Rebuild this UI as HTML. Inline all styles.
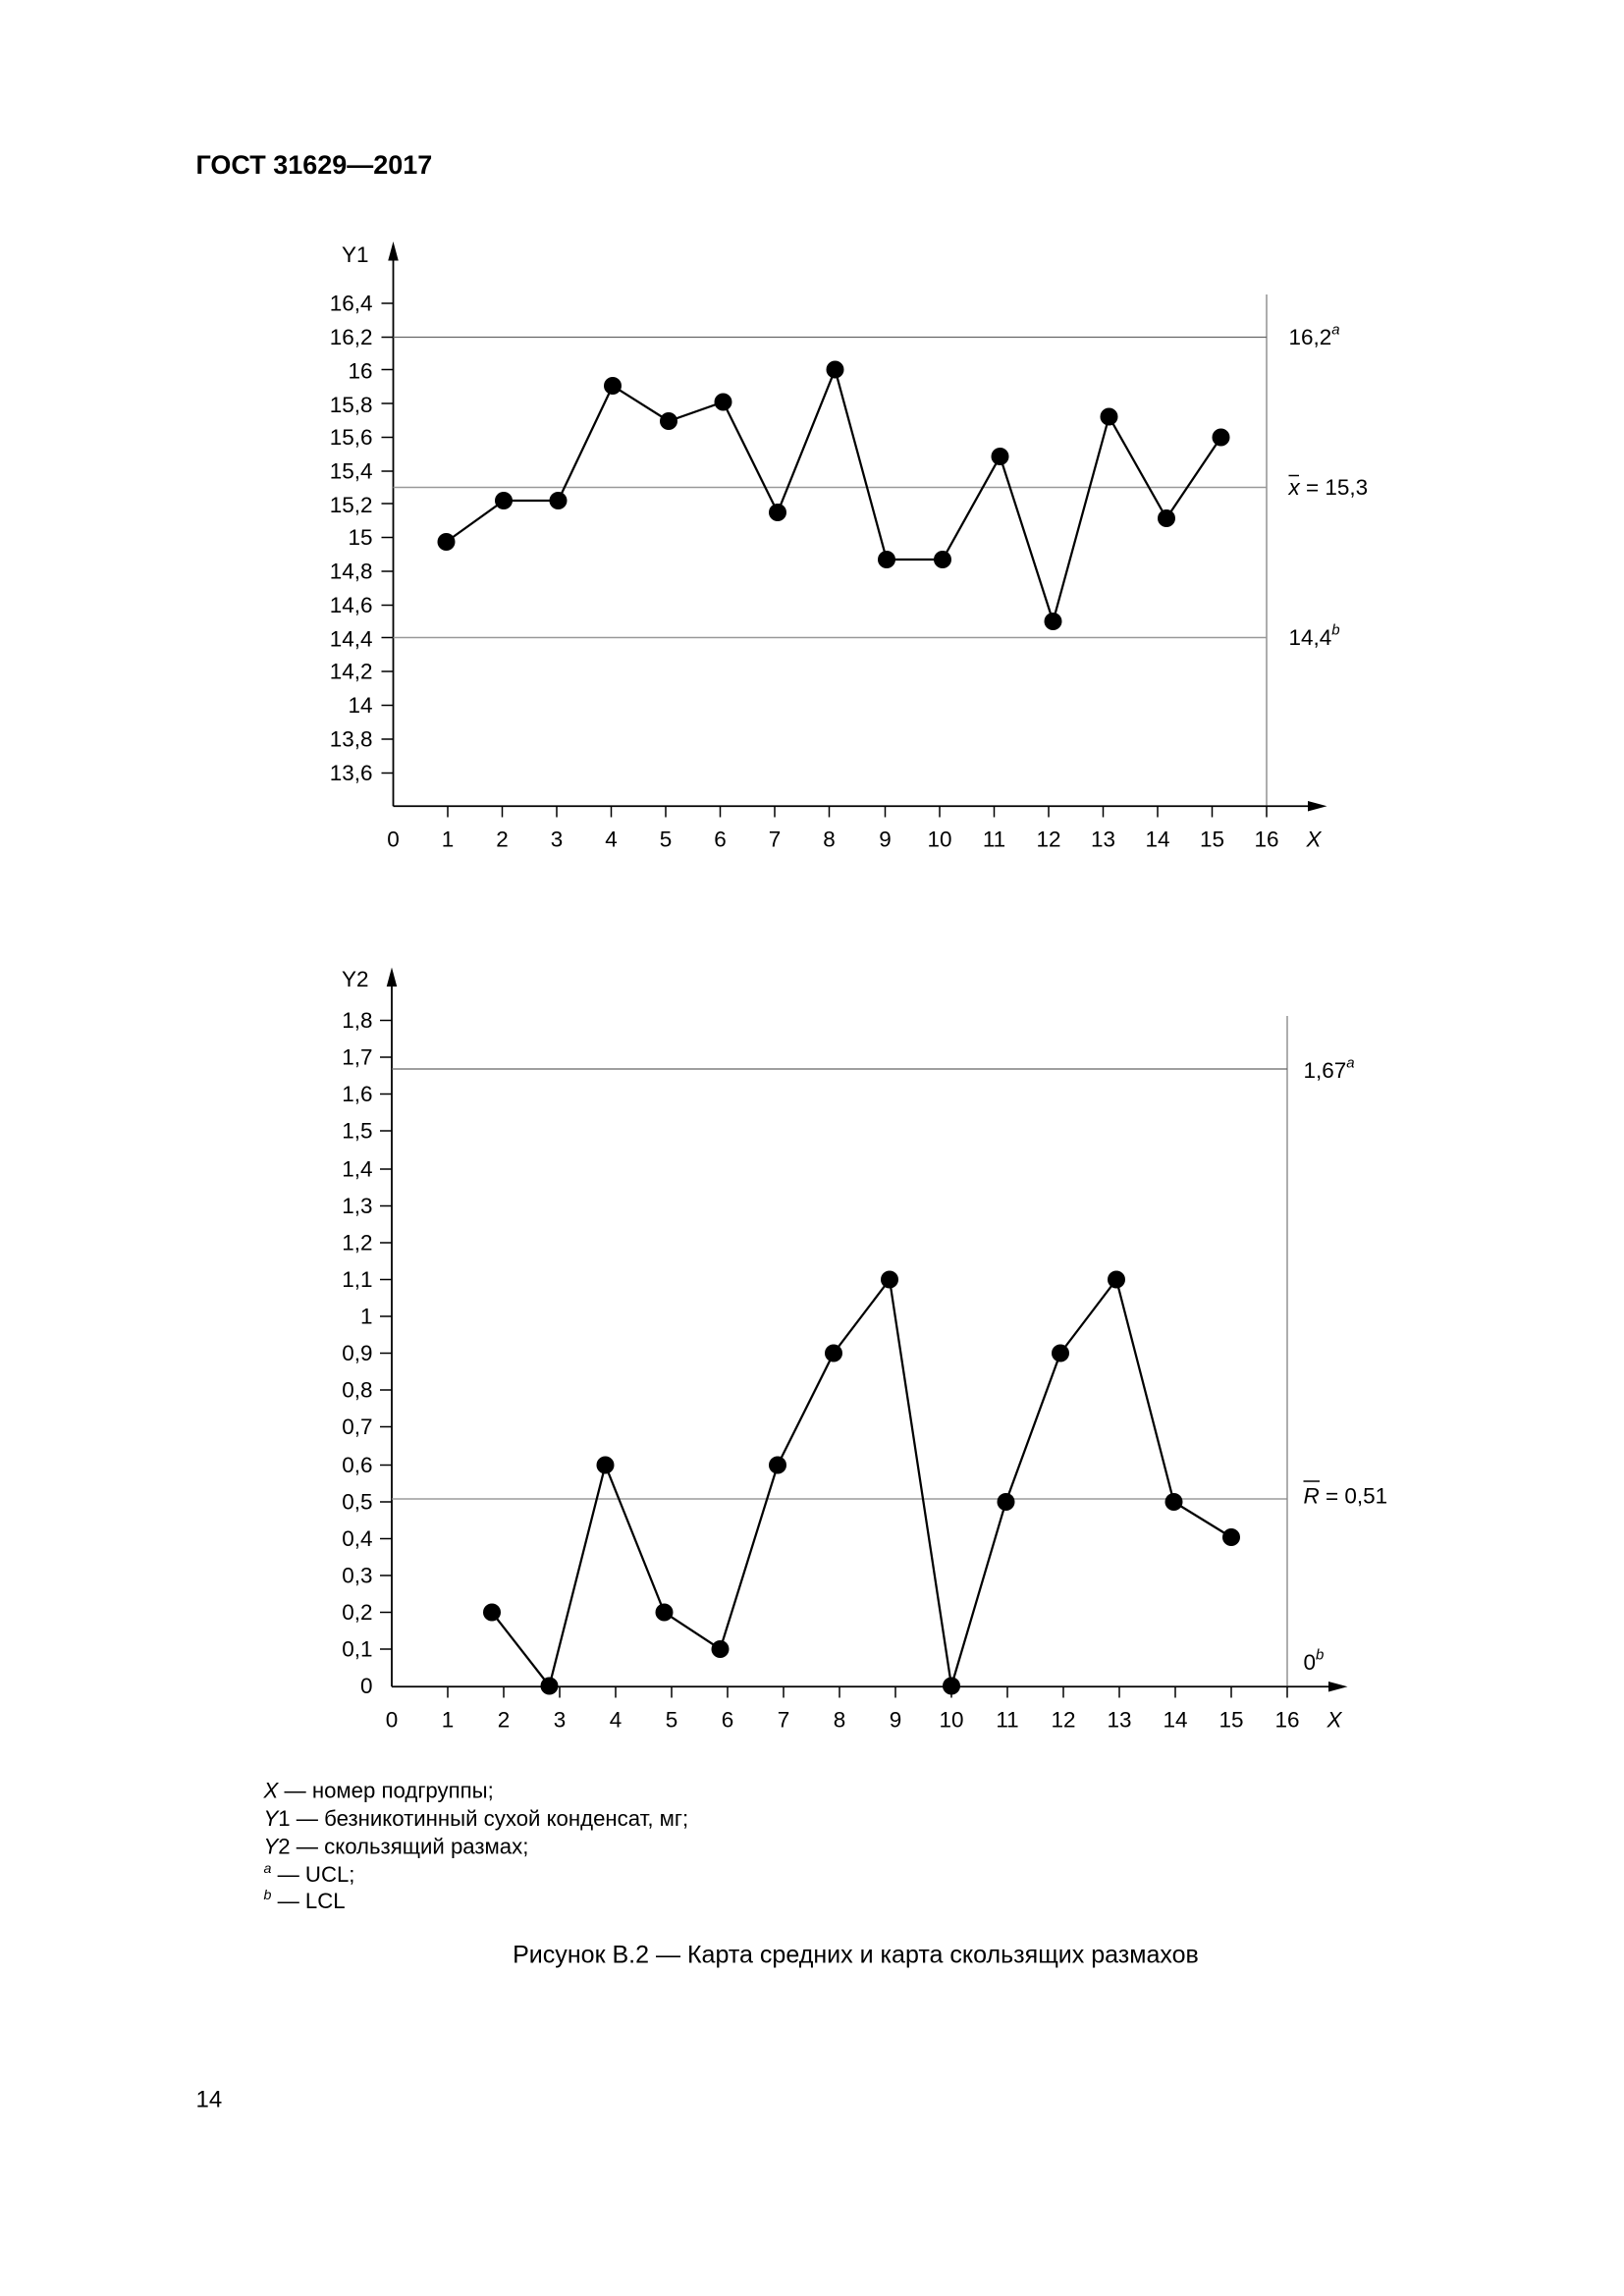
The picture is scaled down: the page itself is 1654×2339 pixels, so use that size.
<!DOCTYPE html>
<html><head><meta charset="utf-8"><style>html,body{margin:0;padding:0;background:#fff}svg{display:block}</style></head>
<body>
<svg width="1654" height="2339" viewBox="0 0 1102.667 1559.333" xmlns="http://www.w3.org/2000/svg" font-family="Liberation Sans, DejaVu Sans, sans-serif" fill="#000">
<rect width="1102.667" height="1559.333" fill="#fff"/>
<text x="133" y="118" font-size="18" font-weight="bold">ГОСТ 31629—2017</text>

<!-- Chart 1 -->
<g font-size="15">
<line x1="267" y1="547.5" x2="267" y2="170" stroke="#000" stroke-width="1.2"/>
<polygon points="267,164 263.5,177 270.5,177"/>
<line x1="267" y1="547.5" x2="893" y2="547.5" stroke="#000" stroke-width="1.2"/>
<polygon points="901,547.5 888,544 888,551"/>
<line x1="860" y1="200" x2="860" y2="547.5" stroke="#777" stroke-width="0.8"/>
<line x1="267" y1="229" x2="860" y2="229" stroke="#666" stroke-width="0.8"/>
<line x1="267" y1="331" x2="860" y2="331" stroke="#999" stroke-width="1"/>
<line x1="267" y1="433" x2="860" y2="433" stroke="#999" stroke-width="1"/>
<text x="232" y="178">Y1</text>
<g text-anchor="end">
<text x="253" y="211">16,4</text><text x="253" y="234">16,2</text><text x="253" y="257">16</text>
<text x="253" y="280">15,8</text><text x="253" y="302">15,6</text><text x="253" y="325">15,4</text>
<text x="253" y="348">15,2</text><text x="253" y="370">15</text><text x="253" y="393">14,8</text>
<text x="253" y="416">14,6</text><text x="253" y="439">14,4</text><text x="253" y="461">14,2</text>
<text x="253" y="484">14</text><text x="253" y="507">13,8</text><text x="253" y="530">13,6</text>
</g>
<g stroke="#000" stroke-width="1">
<line x1="259" y1="206" x2="267" y2="206"/><line x1="259" y1="229" x2="267" y2="229"/><line x1="259" y1="251" x2="267" y2="251"/>
<line x1="259" y1="274" x2="267" y2="274"/><line x1="259" y1="297" x2="267" y2="297"/><line x1="259" y1="320" x2="267" y2="320"/>
<line x1="259" y1="342" x2="267" y2="342"/><line x1="259" y1="365" x2="267" y2="365"/><line x1="259" y1="388" x2="267" y2="388"/>
<line x1="259" y1="411" x2="267" y2="411"/><line x1="259" y1="433" x2="267" y2="433"/><line x1="259" y1="456" x2="267" y2="456"/>
<line x1="259" y1="479" x2="267" y2="479"/><line x1="259" y1="502" x2="267" y2="502"/><line x1="259" y1="525" x2="267" y2="525"/>
</g>
<g stroke="#000" stroke-width="1">
<line x1="304" y1="547" x2="304" y2="555"/><line x1="341" y1="547" x2="341" y2="555"/><line x1="378" y1="547" x2="378" y2="555"/>
<line x1="415" y1="547" x2="415" y2="555"/><line x1="452" y1="547" x2="452" y2="555"/><line x1="489" y1="547" x2="489" y2="555"/>
<line x1="526" y1="547" x2="526" y2="555"/><line x1="563" y1="547" x2="563" y2="555"/><line x1="601" y1="547" x2="601" y2="555"/>
<line x1="638" y1="547" x2="638" y2="555"/><line x1="675" y1="547" x2="675" y2="555"/><line x1="712" y1="547" x2="712" y2="555"/>
<line x1="749" y1="547" x2="749" y2="555"/><line x1="786" y1="547" x2="786" y2="555"/><line x1="823" y1="547" x2="823" y2="555"/>
<line x1="860" y1="547" x2="860" y2="555"/>
</g>
<g text-anchor="middle">
<text x="267" y="575">0</text><text x="304" y="575">1</text><text x="341" y="575">2</text><text x="378" y="575">3</text>
<text x="415" y="575">4</text><text x="452" y="575">5</text><text x="489" y="575">6</text><text x="526" y="575">7</text>
<text x="563" y="575">8</text><text x="601" y="575">9</text><text x="638" y="575">10</text><text x="675" y="575">11</text>
<text x="712" y="575">12</text><text x="749" y="575">13</text><text x="786" y="575">14</text><text x="823" y="575">15</text>
<text x="860" y="575">16</text>
</g>
<text x="887" y="575" font-style="italic">X</text>
<text x="875" y="234">16,2<tspan font-size="10" dy="-7" font-style="italic">a</tspan></text>
<text x="875" y="336"><tspan font-style="italic">x</tspan> = 15,3</text>
<line x1="875" y1="323" x2="882" y2="323" stroke="#000" stroke-width="1"/>
<text x="875" y="438">14,4<tspan font-size="10" dy="-7" font-style="italic">b</tspan></text>
<polyline fill="none" stroke="#000" stroke-width="1.5" points="303,368 342,340 379,340 416,262 454,286 491,273 528,348 567,251 602,380 640,380 679,310 715,422 753,283 792,352 829,297"/>
<g>
<circle cx="303" cy="368" r="6"/><circle cx="342" cy="340" r="6"/><circle cx="379" cy="340" r="6"/>
<circle cx="416" cy="262" r="6"/><circle cx="454" cy="286" r="6"/><circle cx="491" cy="273" r="6"/>
<circle cx="528" cy="348" r="6"/><circle cx="567" cy="251" r="6"/><circle cx="602" cy="380" r="6"/>
<circle cx="640" cy="380" r="6"/><circle cx="679" cy="310" r="6"/><circle cx="715" cy="422" r="6"/>
<circle cx="753" cy="283" r="6"/><circle cx="792" cy="352" r="6"/><circle cx="829" cy="297" r="6"/>
</g>
</g>

<!-- Chart 2 -->
<g font-size="15">
<line x1="266" y1="1145.5" x2="266" y2="664" stroke="#000" stroke-width="1.2"/>
<polygon points="266,657 262.5,670 269.5,670"/>
<line x1="266" y1="1145.5" x2="907" y2="1145.5" stroke="#000" stroke-width="1.2"/>
<polygon points="915,1145.5 902,1142 902,1149"/>
<line x1="874" y1="690" x2="874" y2="1145.5" stroke="#777" stroke-width="0.8"/>
<line x1="266" y1="726" x2="874" y2="726" stroke="#666" stroke-width="0.8"/>
<line x1="266" y1="1018" x2="874" y2="1018" stroke="#888" stroke-width="0.8"/>
<text x="232" y="670">Y2</text>
<g text-anchor="end">
<text x="253" y="698">1,8</text><text x="253" y="723">1,7</text><text x="253" y="748">1,6</text>
<text x="253" y="773">1,5</text><text x="253" y="799">1,4</text><text x="253" y="824">1,3</text>
<text x="253" y="849">1,2</text><text x="253" y="874">1,1</text><text x="253" y="899">1</text>
<text x="253" y="924">0,9</text><text x="253" y="949">0,8</text><text x="253" y="974">0,7</text>
<text x="253" y="1000">0,6</text><text x="253" y="1025">0,5</text><text x="253" y="1050">0,4</text>
<text x="253" y="1075">0,3</text><text x="253" y="1100">0,2</text><text x="253" y="1125">0,1</text>
<text x="253" y="1150">0</text>
</g>
<g stroke="#000" stroke-width="1">
<line x1="258" y1="693" x2="266" y2="693"/><line x1="258" y1="718" x2="266" y2="718"/><line x1="258" y1="743" x2="266" y2="743"/>
<line x1="258" y1="768" x2="266" y2="768"/><line x1="258" y1="794" x2="266" y2="794"/><line x1="258" y1="819" x2="266" y2="819"/>
<line x1="258" y1="844" x2="266" y2="844"/><line x1="258" y1="869" x2="266" y2="869"/><line x1="258" y1="894" x2="266" y2="894"/>
<line x1="258" y1="919" x2="266" y2="919"/><line x1="258" y1="944" x2="266" y2="944"/><line x1="258" y1="969" x2="266" y2="969"/>
<line x1="258" y1="995" x2="266" y2="995"/><line x1="258" y1="1020" x2="266" y2="1020"/><line x1="258" y1="1045" x2="266" y2="1045"/>
<line x1="258" y1="1070" x2="266" y2="1070"/><line x1="258" y1="1095" x2="266" y2="1095"/><line x1="258" y1="1120" x2="266" y2="1120"/>
</g>
<g stroke="#000" stroke-width="1">
<line x1="304" y1="1145" x2="304" y2="1153"/><line x1="342" y1="1145" x2="342" y2="1153"/><line x1="380" y1="1145" x2="380" y2="1153"/>
<line x1="418" y1="1145" x2="418" y2="1153"/><line x1="456" y1="1145" x2="456" y2="1153"/><line x1="494" y1="1145" x2="494" y2="1153"/>
<line x1="532" y1="1145" x2="532" y2="1153"/><line x1="570" y1="1145" x2="570" y2="1153"/><line x1="608" y1="1145" x2="608" y2="1153"/>
<line x1="646" y1="1145" x2="646" y2="1153"/><line x1="684" y1="1145" x2="684" y2="1153"/><line x1="722" y1="1145" x2="722" y2="1153"/>
<line x1="760" y1="1145" x2="760" y2="1153"/><line x1="798" y1="1145" x2="798" y2="1153"/><line x1="836" y1="1145" x2="836" y2="1153"/>
<line x1="874" y1="1145" x2="874" y2="1153"/>
</g>
<g text-anchor="middle">
<text x="266" y="1173">0</text><text x="304" y="1173">1</text><text x="342" y="1173">2</text><text x="380" y="1173">3</text>
<text x="418" y="1173">4</text><text x="456" y="1173">5</text><text x="494" y="1173">6</text><text x="532" y="1173">7</text>
<text x="570" y="1173">8</text><text x="608" y="1173">9</text><text x="646" y="1173">10</text><text x="684" y="1173">11</text>
<text x="722" y="1173">12</text><text x="760" y="1173">13</text><text x="798" y="1173">14</text><text x="836" y="1173">15</text>
<text x="874" y="1173">16</text>
</g>
<text x="901" y="1173" font-style="italic">X</text>
<text x="885" y="732">1,67<tspan font-size="10" dy="-7" font-style="italic">a</tspan></text>
<text x="885" y="1021"><tspan font-style="italic">R</tspan> = 0,51</text>
<line x1="885" y1="1006" x2="896" y2="1006" stroke="#000" stroke-width="1"/>
<text x="885" y="1134">0<tspan font-size="10" dy="-7" font-style="italic">b</tspan></text>
<polyline fill="none" stroke="#000" stroke-width="1.5" points="334,1095 373,1145 411,995 451,1095 489,1120 528,995 566,919 604,869 646,1145 683,1020 720,919 758,869 797,1020 836,1044"/>
<g>
<circle cx="334" cy="1095" r="6"/><circle cx="373" cy="1145" r="6"/><circle cx="411" cy="995" r="6"/>
<circle cx="451" cy="1095" r="6"/><circle cx="489" cy="1120" r="6"/><circle cx="528" cy="995" r="6"/>
<circle cx="566" cy="919" r="6"/><circle cx="604" cy="869" r="6"/><circle cx="646" cy="1145" r="6"/>
<circle cx="683" cy="1020" r="6"/><circle cx="720" cy="919" r="6"/><circle cx="758" cy="869" r="6"/>
<circle cx="797" cy="1020" r="6"/><circle cx="836" cy="1044" r="6"/>
</g>
</g>

<!-- Legend -->
<g font-size="14.8">
<text x="179" y="1221"><tspan font-style="italic">X</tspan> — номер подгруппы;</text>
<text x="179" y="1240"><tspan font-style="italic">Y</tspan>1 — безникотинный сухой конденсат, мг;</text>
<text x="179" y="1259"><tspan font-style="italic">Y</tspan>2 — скользящий размах;</text>
<text x="179" y="1278"><tspan font-size="9.5" dy="-6" font-style="italic">a</tspan><tspan dy="6"> — UCL;</tspan></text>
<text x="179" y="1296"><tspan font-size="9.5" dy="-6" font-style="italic">b</tspan><tspan dy="6"> — LCL</tspan></text>
</g>
<text x="581" y="1333" font-size="16.7" text-anchor="middle">Рисунок В.2 — Карта средних и карта скользящих размахов</text>
<text x="133" y="1431" font-size="16">14</text>
</svg>
</body></html>
